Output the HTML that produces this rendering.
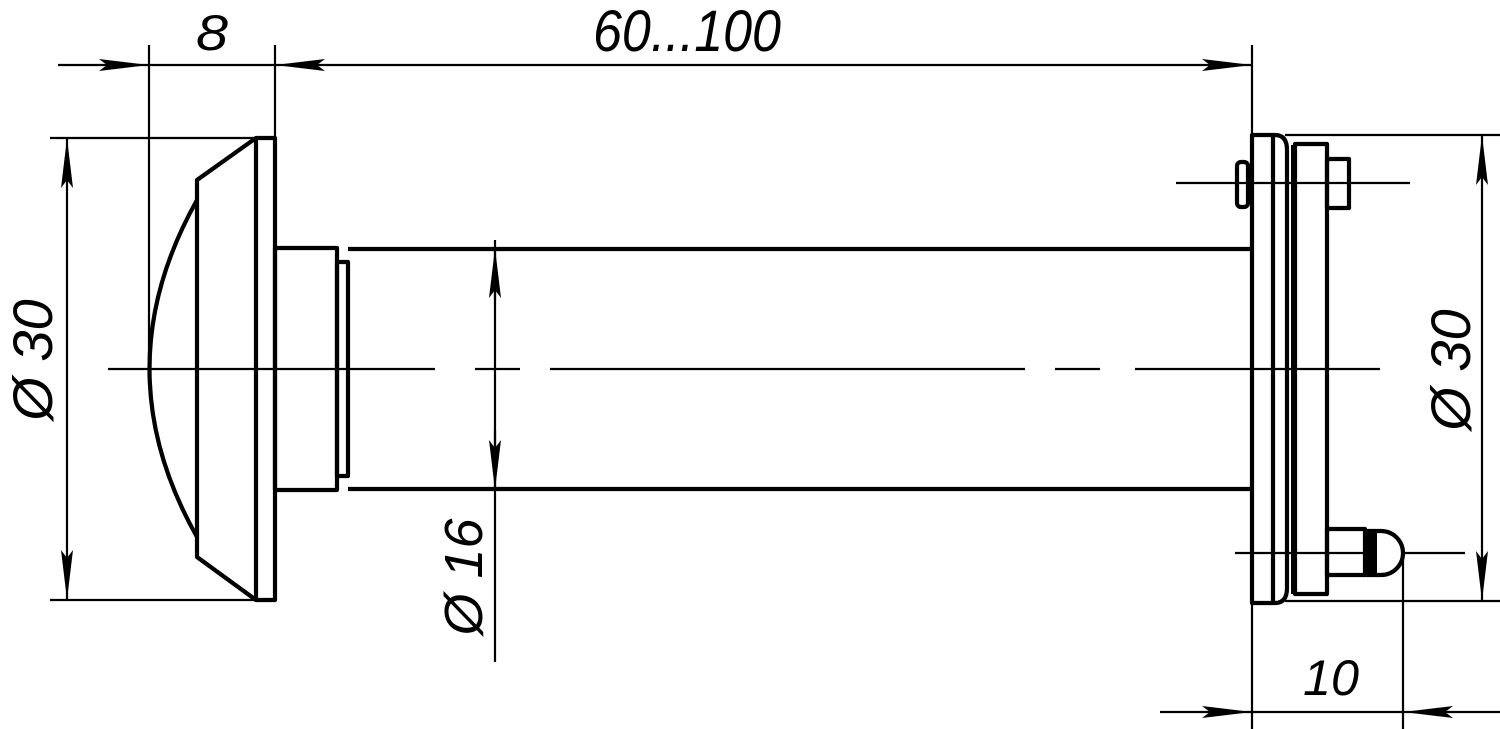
<!DOCTYPE html>
<html><head><meta charset="utf-8"><style>
html,body{margin:0;padding:0;background:#fff;width:1500px;height:729px;overflow:hidden}
text{font-family:"Liberation Sans",sans-serif;font-style:italic;fill:#000}
</style></head><body>
<svg width="1500" height="729" viewBox="0 0 1500 729" xmlns="http://www.w3.org/2000/svg">
<defs>
<marker id="a" viewBox="0 0 50 12" refX="50" refY="6" markerWidth="50" markerHeight="12" markerUnits="userSpaceOnUse" orient="auto-start-reverse">
<path d="M0,0 L50,6 L0,12 L8,6 Z" fill="#000"/>
</marker>
</defs>
<g stroke="#000" fill="none">
<g stroke-width="2.2">
<line x1="149" y1="45" x2="149" y2="369"/>
<line x1="275" y1="45" x2="275" y2="138"/>
<line x1="1252" y1="45" x2="1252" y2="729"/>
<line x1="58" y1="65" x2="149" y2="65" marker-end="url(#a)"/>
<line x1="149" y1="65" x2="275" y2="65"/>
<line x1="275" y1="65" x2="1252" y2="65" marker-start="url(#a)" marker-end="url(#a)"/>
<line x1="50" y1="138" x2="255" y2="138"/>
<line x1="50" y1="600" x2="255" y2="600"/>
<line x1="67" y1="138" x2="67" y2="600" marker-start="url(#a)" marker-end="url(#a)"/>
<line x1="495" y1="240" x2="495" y2="662"/>
<line x1="495" y1="300" x2="495" y2="248" marker-end="url(#a)"/>
<line x1="495" y1="430" x2="495" y2="490" marker-end="url(#a)"/>
<line x1="1285" y1="135" x2="1500" y2="135"/>
<line x1="1285" y1="601" x2="1500" y2="601"/>
<line x1="1482" y1="135" x2="1482" y2="601" marker-start="url(#a)" marker-end="url(#a)"/>
<line x1="1403" y1="553" x2="1403" y2="729"/>
<line x1="1160" y1="712" x2="1252" y2="712" marker-end="url(#a)"/>
<line x1="1252" y1="712" x2="1403" y2="712"/>
<line x1="1500" y1="712" x2="1403" y2="712" marker-end="url(#a)"/>
<line x1="1176" y1="183" x2="1410" y2="183"/>
<line x1="1235" y1="553" x2="1465" y2="553"/>
<path d="M108,369H435 M475,369H520 M550,369H1025 M1055,369H1100 M1135,369H1380"/>
</g>
<g stroke-width="4.2" stroke-linejoin="round">
<rect x="256" y="138" width="19" height="462"/>
<path d="M256,138 L197,180 V557 L256,600"/>
<path d="M197,200 Q102,369 197,537"/>
<rect x="275" y="248" width="62" height="242"/>
<rect x="337" y="262" width="11" height="214"/>
<path d="M348,249 H1252 M348,489 H1252"/>
<path d="M1252,135 H1275 Q1287,135 1287,150 V588 Q1287,603 1275,603 H1252 Z"/>
<line x1="1273" y1="135" x2="1273" y2="603"/>
<rect x="1295" y="144" width="32" height="450"/>
<rect x="1237" y="162" width="11" height="45" rx="4"/>
<rect x="1327" y="159" width="22" height="49"/>
<rect x="1327" y="529" width="38" height="46"/>
<path d="M1367,531 H1381 A22,22 0 0 1 1381,575 H1367 Z" fill="#fff"/>
<rect x="1367" y="531" width="10" height="44" fill="#000" stroke="none"/>
</g>
<line x1="1292" y1="145" x2="1292" y2="594" stroke-width="2"/>
</g>
<text x="196" y="50" font-size="50" textLength="32" lengthAdjust="spacingAndGlyphs">8</text>
<text x="593" y="51" font-size="58" textLength="188" lengthAdjust="spacingAndGlyphs">60...100</text>
<text transform="translate(52,360) rotate(-90)" font-size="56" text-anchor="middle">Ø 30</text>
<text transform="translate(1470,370) rotate(-90)" font-size="56" text-anchor="middle">Ø 30</text>
<text transform="translate(482,577) rotate(-90)" font-size="54" text-anchor="middle">Ø 16</text>
<text x="1303" y="695" font-size="50" textLength="56" lengthAdjust="spacingAndGlyphs">10</text>
</svg>
</body></html>
